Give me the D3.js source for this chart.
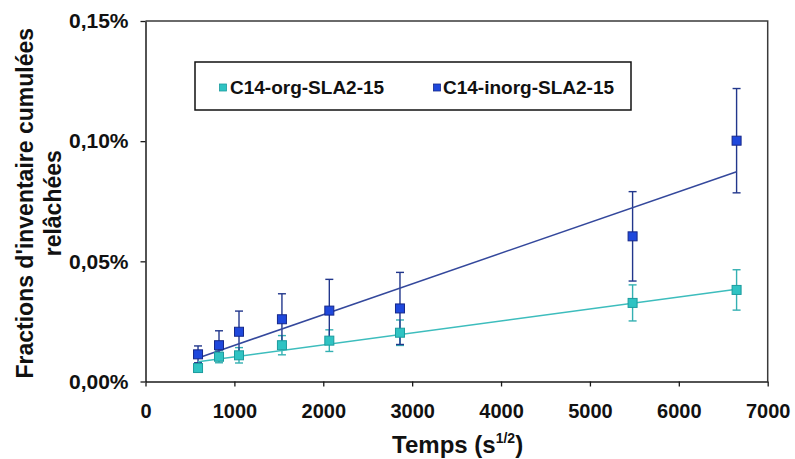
<!DOCTYPE html>
<html>
<head>
<meta charset="utf-8">
<script src="https://cdn.jsdelivr.net/npm/d3@7"></script>
<style>
  html, body { margin: 0; padding: 0; background: #ffffff; }
  svg { display: block; font-family: "Liberation Sans", Arial, sans-serif; }
</style>
</head>
<body>
<svg id="chart" width="795" height="459"></svg>
<script>
// ---- data ----
const seriesNames = ["C14-org-SLA2-15", "C14-inorg-SLA2-15"];
const times = [591, 827, 1052, 1535, 2068, 2863, 5480, 6650];           // s^1/2
const orgValues = [0.0056, 0.0103, 0.0109, 0.0151, 0.0170, 0.0203, 0.0327, 0.0381];   // %
const orgErrors = [0.0008, 0.0025, 0.0032, 0.0040, 0.0045, 0.0053, 0.0075, 0.0084];
const inorgValues = [0.0113, 0.0151, 0.0207, 0.0259, 0.0295, 0.0304, 0.0604, 0.1002];
const inorgErrors = [0.0035, 0.0060, 0.0086, 0.0106, 0.0130, 0.0150, 0.0186, 0.0217];
const trendTimes = [591, 6650];
const trendOrg = [0.0082, 0.0384];
const trendInorg = [0.0098, 0.0873];
const xTicks = [0, 1000, 2000, 3000, 4000, 5000, 6000, 7000];
const yTicks = [0, 0.05, 0.10, 0.15];

// ---- layout ----
const W = 795, H = 459;
const margin = { left: 145.5, top: 21, right: 27.3, bottom: 77.5 };
const svg = d3.select("#chart");
const x = d3.scaleLinear().domain([0, 7000]).range([margin.left, W - margin.right]);
const y = d3.scaleLinear().domain([0, 0.15]).range([H - margin.bottom, margin.top]);

const frLocale = d3.formatLocale({ decimal: ",", thousands: "", grouping: [3], currency: ["", "€"] });
const yFmt = d => frLocale.format(".2f")(d) + "%";

const colors = {
  org: { fill: "#2fc3c3", stroke: "#1c9c9e", line: "#3dbdbd", err: "#34b0b2" },
  inorg: { fill: "#1f48dc", stroke: "#16288a", line: "#34489c", err: "#22378c" }
};

// frame (top / right)
svg.append("path")
  .attr("d", `M${x(0)},${y(0.15)}H${x(7000)}V${y(0)}`)
  .attr("fill", "none").attr("stroke", "#3a3a3a").attr("stroke-width", 1.5);

// axes
const xAxis = svg.append("g")
  .attr("transform", `translate(0,${y(0)})`)
  .call(d3.axisBottom(x).tickValues(xTicks).tickFormat(d3.format("d")).tickSize(5).tickPadding(17).tickSizeOuter(0));
const yAxis = svg.append("g")
  .attr("transform", `translate(${x(0)},0)`)
  .call(d3.axisLeft(y).tickValues(yTicks).tickFormat(yFmt).tickSize(5).tickPadding(12).tickSizeOuter(0));
[xAxis, yAxis].forEach(g => {
  g.select(".domain").attr("stroke", "#1a1a1a").attr("stroke-width", 1.5);
  g.selectAll(".tick line").attr("stroke", "#1a1a1a").attr("stroke-width", 1.3);
  g.selectAll(".tick text").attr("fill", "#111").attr("font-weight", "bold")
    .attr("font-family", "Liberation Sans, Arial, sans-serif");
});
xAxis.selectAll(".tick text").attr("font-size", 20);
yAxis.selectAll(".tick text").attr("font-size", 21);

// axis titles
const xt = svg.append("text")
  .attr("x", (x(0) + x(7000)) / 2 + 1).attr("y", 453)
  .attr("text-anchor", "middle").attr("font-size", 24).attr("font-weight", "bold").attr("fill", "#111");
xt.append("tspan").text("Temps (s");
xt.append("tspan").attr("font-size", 14).attr("dy", -10).text("1/2");
xt.append("tspan").attr("dy", 10).text(")");

const yMid = (y(0) + y(0.15)) / 2 + 2;
const yt = svg.append("text")
  .attr("transform", `translate(33,${yMid}) rotate(-90)`)
  .attr("text-anchor", "middle").attr("font-size", 23).attr("font-weight", "bold").attr("fill", "#111");
yt.append("tspan").attr("x", 0).attr("y", 0).text("Fractions d'inventaire cumulées");
yt.append("tspan").attr("x", 0).attr("y", 28).text("relâchées");

// series
const series = [
  { key: "org", name: seriesNames[0], values: orgValues, errors: orgErrors, trend: trendOrg },
  { key: "inorg", name: seriesNames[1], values: inorgValues, errors: inorgErrors, trend: trendInorg }
];
const cap = 4;
series.forEach(s => {
  const c = colors[s.key];
  const pts = times.map((t, i) => ({ t, v: s.values[i], e: s.errors[i] }));
  const g = svg.append("g");
  const eb = g.selectAll("g.err").data(pts).join("g").attr("class", "err")
    .attr("stroke", c.err).attr("stroke-width", 1.4);
  eb.append("line").attr("x1", d => x(d.t)).attr("x2", d => x(d.t))
    .attr("y1", d => y(d.v - d.e)).attr("y2", d => y(d.v + d.e));
  eb.append("line").attr("x1", d => x(d.t) - cap).attr("x2", d => x(d.t) + cap)
    .attr("y1", d => y(d.v + d.e)).attr("y2", d => y(d.v + d.e));
  eb.append("line").attr("x1", d => x(d.t) - cap).attr("x2", d => x(d.t) + cap)
    .attr("y1", d => y(d.v - d.e)).attr("y2", d => y(d.v - d.e));
});
series.forEach(s => {
  const c = colors[s.key];
  const line = d3.line().x(d => x(d[0])).y(d => y(d[1]));
  svg.append("path").datum(trendTimes.map((t, i) => [t, s.trend[i]]))
    .attr("d", line).attr("fill", "none").attr("stroke", c.line).attr("stroke-width", 1.5);
});
series.forEach(s => {
  const c = colors[s.key];
  const pts = times.map((t, i) => ({ t, v: s.values[i] }));
  svg.append("g").selectAll("rect").data(pts).join("rect")
    .attr("x", d => x(d.t) - 4.5).attr("y", d => y(d.v) - 4.5)
    .attr("width", 9).attr("height", 9)
    .attr("fill", c.fill).attr("stroke", c.stroke).attr("stroke-width", 1);
});

// legend
const lg = svg.append("g");
lg.append("rect").attr("x", 195).attr("y", 62).attr("width", 436).attr("height", 48)
  .attr("fill", "#fff").attr("stroke", "#111").attr("stroke-width", 1.5);
const legendPos = [{ mx: 223, tx: 230 }, { mx: 437, tx: 443 }];
series.forEach((s, i) => {
  const c = colors[s.key];
  lg.append("rect").attr("x", legendPos[i].mx - 3.5).attr("y", 84).attr("width", 7).attr("height", 7)
    .attr("fill", c.fill).attr("stroke", c.stroke).attr("stroke-width", 0.8);
  lg.append("text").attr("x", legendPos[i].tx).attr("y", 94)
    .attr("font-size", 19).attr("font-weight", "bold").attr("fill", "#111")
    .text(s.name);
});
</script>
</body>
</html>
